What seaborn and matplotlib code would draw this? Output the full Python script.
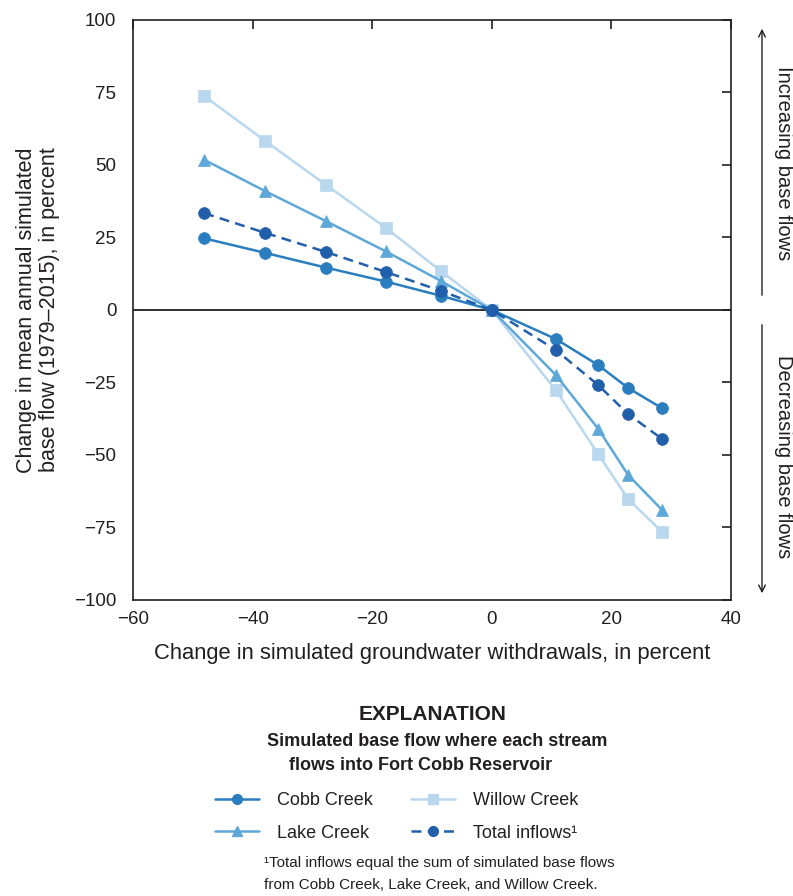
import matplotlib
matplotlib.use("Agg")
import matplotlib.pyplot as plt
import seaborn as sns
import pandas as pd
from matplotlib.lines import Line2D

# ---- data ----
withdrawal_change = [-48.1, -37.9, -27.7, -17.7, -8.5, 0, 10.7, 17.8, 22.8, 28.5]
cobb_creek = [24.7, 19.7, 14.6, 9.8, 4.9, 0, -10.0, -19.0, -26.9, -33.9]
lake_creek = [51.8, 41.0, 30.6, 20.2, 10.0, 0, -22.4, -41.0, -56.9, -69.0]
willow_creek = [73.8, 58.3, 43.1, 28.3, 13.4, 0, -27.6, -49.7, -65.2, -76.6]
total_inflows = [33.4, 26.6, 20.0, 13.1, 6.6, 0, -13.8, -25.9, -35.9, -44.5]

series_names = ["Cobb Creek", "Lake Creek", "Willow Creek", "Total inflows¹"]
x_ticks = [-60, -40, -20, 0, 20, 40]
y_ticks = [-100, -75, -50, -25, 0, 25, 50, 75, 100]

sns.set_theme(style="white")
FONT = ["Liberation Sans", "DejaVu Sans"]
plt.rcParams["font.family"] = FONT
plt.rcParams["text.color"] = "#231f20"

colors = {"Cobb Creek": "#2a7dbf", "Lake Creek": "#5da8d8",
          "Willow Creek": "#b9d7ed", "Total inflows¹": "#215faa"}
markers = {"Cobb Creek": "o", "Lake Creek": "^", "Willow Creek": "s", "Total inflows¹": "o"}
lstyles = {"Cobb Creek": "-", "Lake Creek": "-", "Willow Creek": "-", "Total inflows¹": (0, (4, 2.5))}
msizes = {"Cobb Creek": 8.5, "Lake Creek": 8.5, "Willow Creek": 8.5, "Total inflows¹": 8.5}

fig = plt.figure(figsize=(7.93, 8.96), dpi=100)
ax = fig.add_axes([133 / 793, 1 - 600 / 896, (731 - 133) / 793, 580 / 896])

ax.axhline(0, color="#231f20", lw=1.3, zorder=1)

data = {"Cobb Creek": cobb_creek, "Lake Creek": lake_creek,
        "Willow Creek": willow_creek, "Total inflows¹": total_inflows}
draw_order = ["Willow Creek", "Lake Creek", "Cobb Creek", "Total inflows¹"]
for name in draw_order:
    df = pd.DataFrame({"x": withdrawal_change, "y": data[name]})
    sns.lineplot(data=df, x="x", y="y", ax=ax, color=colors[name],
                 marker=markers[name], markersize=msizes[name],
                 markeredgecolor=colors[name], markeredgewidth=0.5,
                 linewidth=1.8, zorder=3, legend=False)
    ax.lines[-1].set_linestyle(lstyles[name])

ax.set_xlim(-60, 40)
ax.set_ylim(-100, 100)
ax.set_xticks(x_ticks)
ax.set_yticks(y_ticks)
ax.set_xticklabels([f"{t}".replace("-", "\u2212") for t in x_ticks])
ax.set_yticklabels([f"{t}".replace("-", "\u2212") for t in y_ticks])
ax.tick_params(axis="both", direction="in", length=6.5, width=1.2, color="#231f20",
               labelsize=13.5, labelcolor="#231f20", top=True, right=True,
               labeltop=False, labelright=False)
ax.tick_params(axis="y", pad=12)
ax.tick_params(axis="x", pad=8)
for s in ax.spines.values():
    s.set_visible(True)
    s.set_color("#231f20")
    s.set_linewidth(1.2)

ax.set_xlabel("Change in simulated groundwater withdrawals, in percent",
              fontsize=15.8, color="#231f20", labelpad=11)
ax.set_ylabel("Change in mean annual simulated\nbase flow (1979\u20132015), in percent",
              fontsize=15.5, color="#231f20", labelpad=10, linespacing=1.1)

# right-side annotations
ax.annotate("", xy=(762 / 793, 1 - 26 / 896), xytext=(762 / 793, 1 - 298 / 896),
            xycoords="figure fraction", textcoords="figure fraction",
            arrowprops=dict(arrowstyle="->", color="#231f20", lw=1.0, mutation_scale=12))
ax.annotate("", xy=(762 / 793, 1 - 596 / 896), xytext=(762 / 793, 1 - 322 / 896),
            xycoords="figure fraction", textcoords="figure fraction",
            arrowprops=dict(arrowstyle="->", color="#231f20", lw=1.0, mutation_scale=12))
fig.text(783 / 793, 1 - 163 / 896, "Increasing base flows", rotation=270,
         ha="center", va="center", fontsize=14.5, color="#231f20")
fig.text(783 / 793, 1 - 457 / 896, "Decreasing base flows", rotation=270,
         ha="center", va="center", fontsize=14.5, color="#231f20")

# explanation
fig.text(433 / 793, 1 - 715 / 896, "EXPLANATION", ha="center", va="center",
         fontsize=15, fontweight="bold", color="#231f20")
fig.text(437.5 / 793, 1 - 741 / 896, "Simulated base flow where each stream",
         ha="center", va="center", fontsize=13, fontweight="bold", color="#231f20")
fig.text(421 / 793, 1 - 765 / 896, "flows into Fort Cobb Reservoir",
         ha="center", va="center", fontsize=13, fontweight="bold", color="#231f20")

handles = []
for name in series_names:
    handles.append(Line2D([0], [0], color=colors[name], marker=markers[name],
                          markersize=7 if markers[name] != "^" else 6.5,
                          linestyle=lstyles[name], linewidth=1.8,
                          markeredgecolor=colors[name]))
leg = fig.legend(handles, series_names, ncol=2, loc="center left",
                 bbox_to_anchor=(206 / 793, 1 - 817 / 896), frameon=False,
                 fontsize=13, handlelength=2.45, handletextpad=1.0,
                 columnspacing=2.1, labelspacing=0.85, borderpad=0)
for t in leg.get_texts():
    t.set_color("#231f20")

fig.text(264 / 793, 1 - 874 / 896,
         "¹Total inflows equal the sum of simulated base flows\n"
         "from Cobb Creek, Lake Creek, and Willow Creek.",
         ha="left", va="center", fontsize=11, color="#231f20", linespacing=1.7)

fig.savefig("out.png", dpi=100)
